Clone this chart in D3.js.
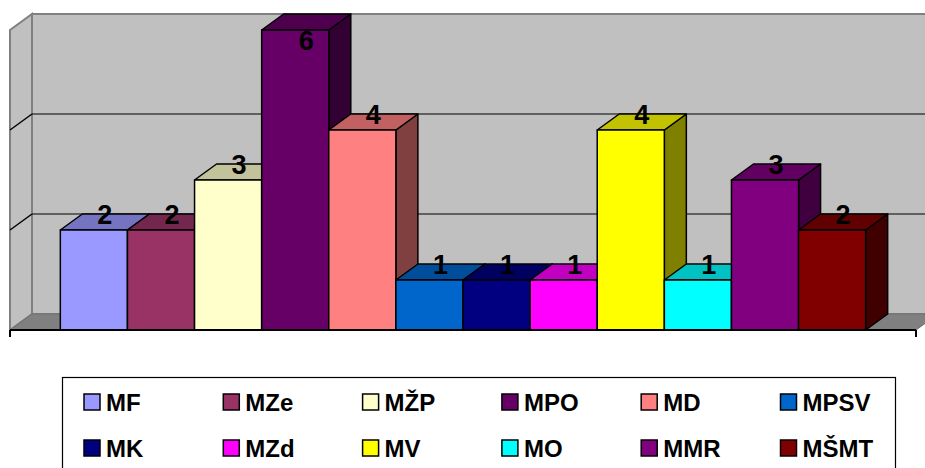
<!DOCTYPE html>
<html>
<head>
<meta charset="utf-8">
<script src="https://cdn.jsdelivr.net/npm/d3@7"></script>
<style>
  html, body { margin: 0; padding: 0; background: #fff; }
  svg { display: block; font-family: Arial, "Liberation Sans", sans-serif; }
</style>
</head>
<body>
<svg id="chart" width="925" height="468"></svg>
<script>
// Ministries and their counts
const categories = ["MF", "MZe", "MŽP", "MPO", "MD", "MPSV", "MK", "MZd", "MV", "MO", "MMR", "MŠMT"];
const values     = [2, 2, 3, 6, 4, 1, 1, 1, 4, 1, 3, 2];
const colors     = ["#9999FF", "#993366", "#FFFFCC", "#660066", "#FF8080", "#0066CC",
                    "#000080", "#FF00FF", "#FFFF00", "#00FFFF", "#800080", "#800000"];
const gridValues = [2, 4];

const svg = d3.select("#chart");

// Front plane of the 3D plot and the depth offset
const left = 10, right = 916, floorY = 330, topY = 30;
const dx = 22, dy = -16;

const x = d3.scaleBand().domain(categories).range([left, right])
  .paddingInner(0).paddingOuter(0.75);
const y = d3.scaleLinear().domain([0, 6]).range([floorY, topY]);

const shade = (c, k) => {
  const r = d3.rgb(c);
  return d3.rgb(r.r * k, r.g * k, r.b * k).formatHex();
};
const poly = pts => pts.map(p => p.join(",")).join(" ");

// Back wall
svg.append("rect")
  .attr("x", left + dx).attr("y", topY + dy)
  .attr("width", right - left).attr("height", floorY - topY)
  .attr("fill", "#C0C0C0").attr("stroke", "#808080").attr("stroke-width", 2);

// Left wall
svg.append("polygon")
  .attr("points", poly([[left, topY], [left + dx, topY + dy], [left + dx, floorY + dy], [left, floorY]]))
  .attr("fill", "#C0C0C0").attr("stroke", "#808080").attr("stroke-width", 2);

// Floor
svg.append("polygon")
  .attr("points", poly([[left, floorY], [left + dx, floorY + dy], [right + dx, floorY + dy], [right, floorY]]))
  .attr("fill", "#808080").attr("stroke", "#707070").attr("stroke-width", 1);

// Gridlines on the back wall and the left wall
const grid = svg.append("g");
gridValues.forEach(v => {
  grid.append("line")
    .attr("x1", left + dx).attr("x2", right + dx)
    .attr("y1", y(v) + dy).attr("y2", y(v) + dy)
    .attr("stroke", "#000").attr("stroke-width", 1.2);
  grid.append("line")
    .attr("x1", left).attr("x2", left + dx)
    .attr("y1", y(v)).attr("y2", y(v) + dy)
    .attr("stroke", "#000").attr("stroke-width", 1.5);
});

// Bars, drawn left to right so each front face covers the previous side
const bars = svg.append("g");
categories.forEach((c, i) => {
  const x0 = x(c), x1 = x(c) + x.bandwidth();
  const yt = y(values[i]);
  const g = bars.append("g").attr("stroke", "#000").attr("stroke-width", 1.5)
    .attr("stroke-linejoin", "round");
  g.append("polygon")
    .attr("points", poly([[x1, yt], [x1 + dx, yt + dy], [x1 + dx, floorY + dy], [x1, floorY]]))
    .attr("fill", shade(colors[i], 0.5));
  g.append("polygon")
    .attr("points", poly([[x0, yt], [x0 + dx, yt + dy], [x1 + dx, yt + dy], [x1, yt]]))
    .attr("fill", shade(colors[i], 0.76));
  g.append("rect")
    .attr("x", x0).attr("y", yt)
    .attr("width", x1 - x0).attr("height", floorY - yt)
    .attr("fill", colors[i]);
});

// Value labels above each bar
const labels = svg.append("g")
  .attr("font-size", 27).attr("font-weight", "bold").attr("fill", "#000")
  .attr("text-anchor", "middle");
categories.forEach((c, i) => {
  const cy = Math.max(y(values[i]) + dy, 40);
  labels.append("text")
    .attr("x", x(c) + x.bandwidth() / 2 + dx / 2)
    .attr("y", cy + 10)
    .text(values[i]);
});

// Category axis line with end ticks
const axis = svg.append("g").attr("stroke", "#000").attr("stroke-width", 2);
axis.append("line").attr("x1", left).attr("x2", right).attr("y1", floorY).attr("y2", floorY);
[left, right].forEach(px => {
  axis.append("line").attr("x1", px).attr("x2", px).attr("y1", floorY).attr("y2", floorY + 7);
});

// Legend
const legend = svg.append("g");
legend.append("rect")
  .attr("x", 62.5).attr("y", 377.5).attr("width", 833).attr("height", 100)
  .attr("fill", "#fff").attr("stroke", "#000").attr("stroke-width", 1.2);
const colX = d3.range(6).map(k => 84 + k * 139.3);
const rowY = [394, 440];
categories.forEach((c, i) => {
  const gx = colX[i % 6], gy = rowY[Math.floor(i / 6)];
  legend.append("rect")
    .attr("x", gx).attr("y", gy).attr("width", 16).attr("height", 16)
    .attr("fill", colors[i]).attr("stroke", "#000").attr("stroke-width", 1.5);
  legend.append("text")
    .attr("x", gx + 22).attr("y", gy + 17)
    .attr("font-size", 24).attr("font-weight", "bold").attr("fill", "#000")
    .text(c);
});
</script>
</body>
</html>
